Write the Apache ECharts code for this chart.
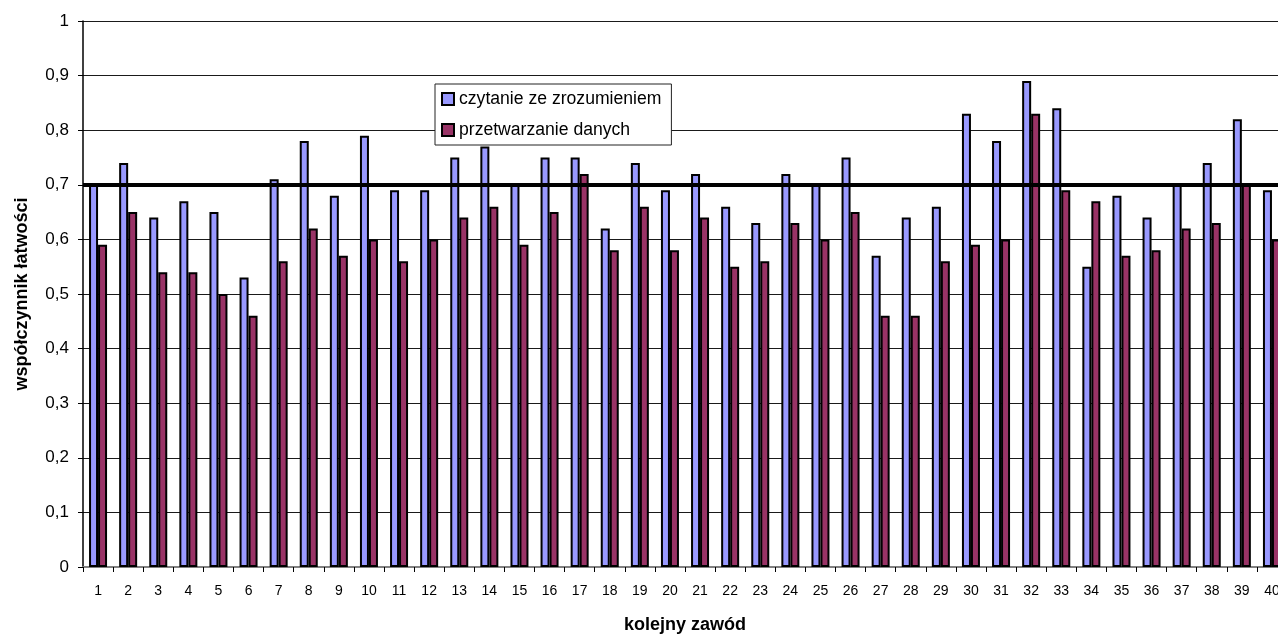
<!DOCTYPE html>
<html>
<head>
<meta charset="utf-8">
<script src="https://cdn.jsdelivr.net/npm/echarts@6/dist/echarts.min.js"></script>
<style>
html,body{margin:0;padding:0;background:#fff;}
#chart{width:1278px;height:636px;}
</style>
</head>
<body>
<div id="chart"></div>
<script>
const categories = ['1','2','3','4','5','6','7','8','9','10','11','12','13','14','15','16','17','18','19','20','21','22','23','24','25','26','27','28','29','30','31','32','33','34','35','36','37','38','39','40'];
const czytanie = [0.70,0.74,0.64,0.67,0.65,0.53,0.71,0.78,0.68,0.79,0.69,0.69,0.75,0.77,0.70,0.75,0.75,0.62,0.74,0.69,0.72,0.66,0.63,0.72,0.70,0.75,0.57,0.64,0.66,0.83,0.78,0.89,0.84,0.55,0.68,0.64,0.70,0.74,0.82,0.69];
const przetwarzanie = [0.59,0.65,0.54,0.54,0.50,0.46,0.56,0.62,0.57,0.60,0.56,0.60,0.64,0.66,0.59,0.65,0.72,0.58,0.66,0.58,0.64,0.55,0.56,0.63,0.60,0.65,0.46,0.46,0.56,0.59,0.60,0.83,0.69,0.67,0.57,0.58,0.62,0.63,0.70,0.60];
const threshold = 0.7;
const seriesNames = ['czytanie ze zrozumieniem','przetwarzanie danych'];

const FONT = "'Liberation Sans', Arial, sans-serif";
const chart = echarts.init(document.getElementById('chart'), null, {renderer:'canvas'});
chart.setOption({
  animation:false,
  backgroundColor:'#fff',
  textStyle:{fontFamily:FONT},
  grid:{left:83, top:21, bottom:69, right:-9, containLabel:false, outerBoundsMode:'none'},
  legend:{
    orient:'vertical',
    left:435, top:84,
    padding:[5,10,5,6],
    backgroundColor:'#fff',
    borderColor:'#222', borderWidth:1,
    itemWidth:12, itemHeight:12, itemGap:11,
    icon:'rect',
    textStyle:{fontFamily:FONT, fontSize:17.6, color:'#000', lineHeight:20},
    data:seriesNames
  },
  xAxis:{
    type:'category',
    data:categories,
    boundaryGap:true,
    name:'kolejny zawód',
    nameLocation:'middle',
    nameGap:49,
    nameTextStyle:{fontFamily:FONT, fontWeight:'bold', fontSize:18, color:'#000'},
    axisLine:{lineStyle:{color:'#808080', width:2}},
    axisTick:{show:true, length:5, lineStyle:{color:'#000', width:1}},
    axisLabel:{interval:0, fontFamily:FONT, fontSize:14, color:'#000', margin:17, hideOverlap:false},
    splitLine:{show:false}
  },
  yAxis:{
    type:'value',
    min:0, max:1, interval:0.1,
    name:'współczynnik łatwości',
    nameLocation:'middle',
    nameGap:52,
    nameRotate:90,
    nameTextStyle:{fontFamily:FONT, fontWeight:'bold', fontSize:18, color:'#000'},
    axisLine:{show:true, lineStyle:{color:'#000', width:1.5}},
    axisTick:{show:true, length:5, lineStyle:{color:'#000', width:1}},
    axisLabel:{fontFamily:FONT, fontSize:17, color:'#000', margin:14,
      formatter:v=>String(Math.round(v*10)/10).replace('.',',')},
    splitLine:{show:true, lineStyle:{color:'#1a1a1a', width:1}}
  },
  series:[
    {
      name:seriesNames[0], type:'bar', data:czytanie,
      barWidth:9, barGap:'0%',
      itemStyle:{color:'#9999FF', borderColor:'#000', borderWidth:2},
      z:2
    },
    {
      name:seriesNames[1], type:'bar', data:przetwarzanie,
      barWidth:9, barGap:'0%',
      itemStyle:{color:'#993366', borderColor:'#000', borderWidth:2},
      z:2,
      markLine:{
        silent:true, symbol:['none','none'],
        label:{show:false},
        lineStyle:{color:'#000', width:4, type:'solid'},
        data:[{yAxis:threshold}],
        z:5
      }
    }
  ]
});
</script>
</body>
</html>
